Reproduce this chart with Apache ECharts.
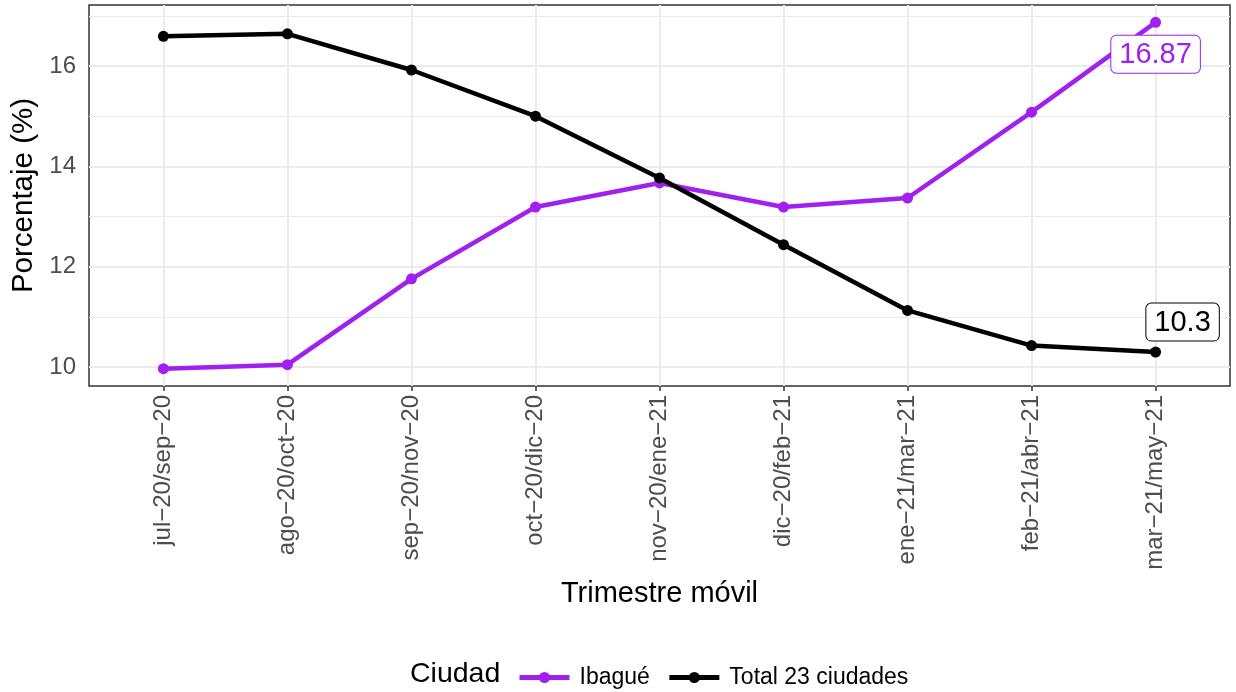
<!DOCTYPE html>
<html><head><meta charset="utf-8">
<script src="https://cdn.jsdelivr.net/npm/echarts@6/dist/echarts.min.js"></script>
<style>html,body{margin:0;padding:0;background:#fff}#c{width:1236px;height:692px}</style>
</head><body><div id="c"></div>
<script>
const categories = ["jul−20/sep−20","ago−20/oct−20","sep−20/nov−20","oct−20/dic−20","nov−20/ene−21","dic−20/feb−21","ene−21/mar−21","feb−21/abr−21","mar−21/may−21"];
const ibague = [9.97, 10.05, 11.76, 13.19, 13.67, 13.19, 13.37, 15.08, 16.87];
const total23 = [16.59, 16.64, 15.92, 15.00, 13.77, 12.44, 11.13, 10.43, 10.30];
const yTicks = [10, 12, 14, 16];
const yMinor = [11, 13, 15, 17];
const seriesNames = ["Ibagué", "Total 23 ciudades"];

const catIdx = categories.map((c, i) => i);
const font = "Liberation Sans, Arial, sans-serif";
const PURPLE = "#A020F0";

function pts(arr) { return arr.map((v, i) => [i, v]); }
function lastLabel(arr, color, pos, dist, offset) {
  const d = pts(arr);
  const last = d.length - 1;
  return d.map((p, i) => i === last ? {
    value: p,
    label: {
      show: true, position: pos, distance: dist, offset: offset,
      formatter: String(arr[i]),
      color: color, fontSize: 29, fontFamily: font, lineHeight: 30,
      backgroundColor: "#fff", borderColor: color, borderWidth: 1, borderRadius: 5,
      padding: [4, 8, 3, 8]
    }
  } : { value: p });
}

const gridLines = [];
yTicks.forEach(v => gridLines.push({ yAxis: v, lineStyle: { width: 2, color: "#EBEBEB", type: "solid" } }));
yMinor.forEach(v => gridLines.push({ yAxis: v, lineStyle: { width: 1, color: "#EBEBEB", type: "solid" } }));
catIdx.forEach(v => gridLines.push({ xAxis: v, lineStyle: { width: 2, color: "#EBEBEB", type: "solid" } }));

const chart = echarts.init(document.getElementById("c"), null, { renderer: "canvas" });
chart.setOption({
  animation: false,
  backgroundColor: "#fff",
  textStyle: { fontFamily: font },
  grid: { left: 89, right: 6, top: 5, bottom: 306, show: true, borderColor: "#333333", borderWidth: 1.5, backgroundColor: "transparent", containLabel: false, z: 0 },
  xAxis: {
    type: "value", min: -0.6, max: 8.6,
    name: "Trimestre móvil", nameLocation: "middle", nameGap: 193,
    nameTextStyle: { fontSize: 29, color: "#000", fontFamily: font },
    axisLine: { show: false },
    splitLine: { show: false },
    axisTick: { show: true, length: 5, lineStyle: { color: "#333333", width: 1.5 }, customValues: catIdx },
    axisLabel: { rotate: 90, margin: 9, fontSize: 24, color: "#4D4D4D", fontFamily: font, customValues: catIdx,
      formatter: v => categories[Math.round(v)] || "" }
  },
  yAxis: {
    type: "value", min: 9.625, max: 17.215,
    name: "Porcentaje (%)", nameLocation: "middle", nameGap: 36,
    nameTextStyle: { fontSize: 29.5, color: "#000", fontFamily: font },
    axisLine: { show: false },
    splitLine: { show: false },
    axisTick: { show: true, length: 5, lineStyle: { color: "#333333", width: 1.5 }, customValues: yTicks },
    axisLabel: { margin: 13, fontSize: 24, color: "#4D4D4D", fontFamily: font, customValues: yTicks, formatter: v => String(v) }
  },
  legend: {
    left: 512, top: 661, itemWidth: 50, itemHeight: 14, itemGap: 17,
    lineStyle: { width: 5 },
    textStyle: { fontSize: 23, color: "#000", fontFamily: font, padding: [0, 0, 0, 5] },
    data: seriesNames
  },
  graphic: [{ type: "text", left: 410, top: 660, style: { text: "Ciudad", fontSize: 28.5, fill: "#000", fontFamily: font } }],
  series: [
    { type: "line", name: "_grid", data: [], z: 1, silent: true,
      markLine: { z: 1, silent: true, symbol: ["none", "none"], label: { show: false }, animation: false, data: gridLines } },
    { type: "line", name: seriesNames[0], data: lastLabel(ibague, PURPLE, "bottom", 8, [0, 0]), z: 3,
      color: PURPLE, symbol: "circle", symbolSize: 11, lineStyle: { width: 4.5, color: PURPLE }, itemStyle: { color: PURPLE } },
    { type: "line", name: seriesNames[1], data: lastLabel(total23, "#000", "top", 6, [27, 0]), z: 4,
      color: "#000", symbol: "circle", symbolSize: 11, lineStyle: { width: 4.5, color: "#000" }, itemStyle: { color: "#000" } }
  ]
});
</script></body></html>
